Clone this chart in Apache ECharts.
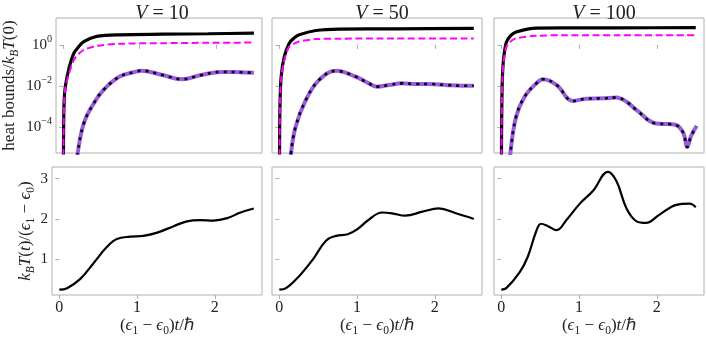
<!DOCTYPE html>
<html>
<head>
<meta charset="utf-8">
<script src="https://cdn.jsdelivr.net/npm/echarts@6/dist/echarts.min.js"></script>
<style>
  html, body { margin: 0; padding: 0; background: #fff; }
  #main { width: 706px; height: 338px; }
</style>
</head>
<body>
<div id="main"></div>
<script>
// coupling strengths, one column each
const vValues = [10, 50, 100];

// top row: heat bounds, stored as log10 of the value
const upperT = [
  [0, 0.005, 0.013, 0.03, 0.077, 0.14, 0.2, 0.27, 0.44, 0.74, 1.3, 1.9, 2.5],
  [0, 0.004, 0.01, 0.025, 0.064, 0.128, 0.19, 0.256, 0.47, 0.77, 1.5, 2.5],
  [0, 0.003, 0.008, 0.015, 0.03, 0.064, 0.12, 0.19, 0.45, 0.8, 1.5, 2.5]
];
const upperLog = [
  [-8, -4.5, -2.7, -2.0, -1.14, -0.41, -0.1, 0.16, 0.41, 0.49, 0.52, 0.54, 0.57],
  [-8, -4.5, -2.7, -1.5, -0.57, 0.08, 0.33, 0.49, 0.70, 0.77, 0.78, 0.80],
  [-8, -4.5, -2.6, -1.5, -0.65, 0.12, 0.45, 0.63, 0.82, 0.83, 0.83, 0.84]
];
const dashedLog = [
  [-8, -4.5, -2.75, -2.05, -1.4, -0.74, -0.45, -0.25, -0.05, 0.05, 0.08, 0.10, 0.11],
  [-8, -4.5, -2.75, -1.6, -0.75, -0.08, 0.06, 0.16, 0.28, 0.30, 0.31, 0.31],
  [-8, -4.5, -2.65, -1.6, -0.8, -0.12, 0.16, 0.32, 0.44, 0.47, 0.47, 0.47]
];
const lowerT = [
  [0.17, 0.19, 0.27, 0.40, 0.53, 0.74, 0.955, 1.02, 1.30, 1.555, 1.81, 2.07, 2.33, 2.5],
  [0.13, 0.15, 0.21, 0.34, 0.51, 0.73, 0.98, 1.15, 1.26, 1.41, 1.58, 1.75, 1.92, 2.14, 2.35, 2.5],
  [0.10, 0.116, 0.19, 0.30, 0.45, 0.535, 0.71, 0.92, 1.09, 1.31, 1.48, 1.61, 1.74, 1.99, 2.16, 2.25, 2.34, 2.39, 2.44, 2.51]
];
const lowerLog = [
  [-6.2, -5.3, -3.84, -2.86, -2.2, -1.55, -1.31, -1.26, -1.47, -1.68, -1.47, -1.32, -1.34, -1.36],
  [-6.5, -5.3, -4.0, -2.7, -1.72, -1.27, -1.55, -1.88, -2.04, -1.96, -1.88, -1.91, -1.91, -1.96, -2.0, -2.0],
  [-6.3, -5.3, -3.51, -2.53, -1.88, -1.68, -1.96, -2.74, -2.63, -2.61, -2.57, -2.78, -3.19, -3.84, -3.87, -3.92, -4.3, -4.99, -4.45, -3.97]
];

// bottom row: effective temperature
const tempT = [
  [0, 0.1, 0.27, 0.44, 0.61, 0.74, 0.91, 1.08, 1.26, 1.47, 1.64, 1.81, 1.98, 2.16, 2.33, 2.5],
  [0, 0.086, 0.26, 0.43, 0.60, 0.73, 0.88, 1.0, 1.15, 1.32, 1.45, 1.62, 1.84, 2.05, 2.27, 2.44, 2.5],
  [0, 0.064, 0.235, 0.34, 0.45, 0.51, 0.60, 0.71, 0.84, 1.01, 1.18, 1.37, 1.48, 1.61, 1.74, 1.86, 2.03, 2.25, 2.42, 2.5]
];
const tempV = [
  [0.245, 0.28, 0.51, 0.90, 1.30, 1.50, 1.56, 1.58, 1.66, 1.82, 1.94, 1.97, 1.96, 2.02, 2.16, 2.26],
  [0.245, 0.28, 0.59, 0.99, 1.46, 1.58, 1.62, 1.74, 1.98, 2.16, 2.14, 2.08, 2.18, 2.26, 2.14, 2.04, 2.0],
  [0.245, 0.28, 0.67, 1.06, 1.70, 1.88, 1.82, 1.72, 1.98, 2.38, 2.70, 3.17, 2.94, 2.26, 1.94, 1.90, 2.10, 2.35, 2.38, 2.29]
];

const xTicks = [0, 1, 2];
const logTicks = [-4, -2, 0];
const tempTicks = [1, 2, 3];

const FONT = 'Liberation Serif';
const frame = '#b0b0b0';
const lefts = [52, 272, 494];
const panelW = 210;

const zip = (xs, ys) => xs.map((x, i) => [x, ys[i]]);

function richSet(size) {
  const base = { fontFamily: FONT, color: '#222', fontWeight: 'normal' };
  return {
    n: Object.assign({}, base, { fontSize: size, lineHeight: size + 6 }),
    i: Object.assign({}, base, { fontSize: size, fontStyle: 'italic', lineHeight: size + 6 }),
    sub: Object.assign({}, base, { fontSize: size * 0.68, fontStyle: 'italic', lineHeight: size * 0.68 + 3, verticalAlign: 'bottom' }),
    subn: Object.assign({}, base, { fontSize: size * 0.68, lineHeight: size * 0.68 + 3, verticalAlign: 'bottom' }),
    sup: Object.assign({}, base, { fontSize: size * 0.68, lineHeight: size * 0.68 + 2, verticalAlign: 'top' })
  };
}
const nameRich = richSet(17);
const tickRich = richSet(15);

const grids = [];
const xAxes = [];
const yAxes = [];
const series = [];

for (let row = 0; row < 2; row++) {
  for (let p = 0; p < 3; p++) {
    const idx = row * 3 + p;
    const isTop = row === 0;
    grids.push({
      left: lefts[p], width: panelW,
      top: isTop ? 18 : 167, height: isTop ? 135 : 133,
      show: true, borderColor: frame, borderWidth: 1
    });
    xAxes.push({
      gridIndex: idx, type: 'value', min: -0.094, max: 2.606,
      axisLine: { show: false }, splitLine: { show: false },
      axisTick: { show: true, customValues: xTicks, length: 4, lineStyle: { color: frame } },
      axisLabel: {
        show: !isTop, customValues: xTicks, margin: 5,
        fontFamily: FONT, fontSize: 16, color: '#222'
      },
      name: isTop ? '' : '{n|(}{i|ϵ}{subn|1}{n| − }{i|ϵ}{subn|0}{n|)}{i|t}{n|/ℏ}',
      nameLocation: 'middle', nameGap: 19,
      nameTextStyle: { rich: nameRich }
    });
    yAxes.push({
      gridIndex: idx, type: 'value',
      min: isTop ? -5.28 : 0.11, max: isTop ? 1.31 : 3.29,
      axisLine: { show: false }, splitLine: { show: false },
      axisTick: { show: true, customValues: isTop ? logTicks : tempTicks, length: 4, lineStyle: { color: frame } },
      axisLabel: {
        show: p === 0, customValues: isTop ? logTicks : tempTicks, margin: 4,
        fontFamily: FONT, fontSize: 16, color: '#222',
        formatter: isTop
          ? (v) => '{n|10}{sup|' + (v === 0 ? '0' : '−' + Math.abs(v)) + '}'
          : (v) => '{n|' + v + '}',
        rich: tickRich
      },
      name: p !== 0 ? '' : (isTop
        ? '{n|heat bounds/}{i|k}{sub|B}{i|T}{n|(0)}'
        : '{i|k}{sub|B}{i|T}{n|(}{i|t}{n|)/(}{i|ϵ}{subn|1}{n| − }{i|ϵ}{subn|0}{n|)}'),
      nameLocation: 'middle', nameGap: isTop ? 35 : 15,
      nameTextStyle: { rich: nameRich }
    });
  }
}

for (let p = 0; p < 3; p++) {
  series.push({
    type: 'line', xAxisIndex: p, yAxisIndex: p, showSymbol: false,
    smooth: 0.3, z: 2,
    lineStyle: { color: '#000', width: 3.2 },
    data: zip(upperT[p], upperLog[p])
  });
  series.push({
    type: 'line', xAxisIndex: p, yAxisIndex: p, showSymbol: false,
    smooth: 0.3, z: 3,
    lineStyle: { color: '#ff00ff', width: 2, type: [7, 3.5] },
    data: zip(upperT[p], dashedLog[p])
  });
  series.push({
    type: 'line', xAxisIndex: p, yAxisIndex: p, showSymbol: false,
    smooth: 0.4, z: 4,
    lineStyle: { color: '#9a5ce0', width: 4 },
    data: zip(lowerT[p], lowerLog[p])
  });
  series.push({
    type: 'line', xAxisIndex: p, yAxisIndex: p, showSymbol: false,
    smooth: 0.4, z: 5,
    lineStyle: { color: '#000', width: 2.6, type: [3, 5] },
    data: zip(lowerT[p], lowerLog[p])
  });
  series.push({
    type: 'line', xAxisIndex: 3 + p, yAxisIndex: 3 + p, showSymbol: false,
    smooth: 0.4, z: 2,
    lineStyle: { color: '#000', width: 2.2 },
    data: zip(tempT[p], tempV[p])
  });
}

const titleRich = richSet(20);
const titles = vValues.map((v, p) => ({
  text: '{i|V}{n| = ' + v + '}',
  left: lefts[p] + panelW / 2, top: -4, textAlign: 'center',
  textStyle: { fontWeight: 'normal', rich: titleRich }
}));

const myChart = echarts.init(document.getElementById('main'));
myChart.setOption({
  animation: false,
  backgroundColor: '#fff',
  title: titles,
  grid: grids,
  xAxis: xAxes,
  yAxis: yAxes,
  series: series
});
</script>
</body>
</html>
